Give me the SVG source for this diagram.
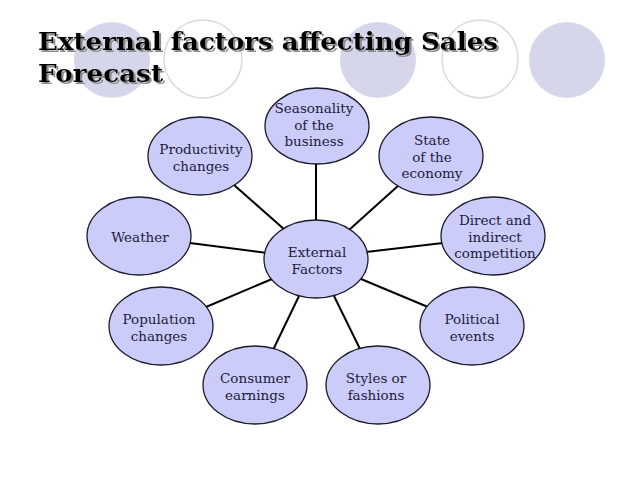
<svg xmlns="http://www.w3.org/2000/svg" width="638" height="479" viewBox="0 0 638 479">
<defs>
<filter id="shadow" x="-5%" y="-20%" width="110%" height="150%">
<feOffset in="SourceAlpha" dx="2" dy="2" result="off"/>
<feFlood flood-color="#8c8c8c"/>
<feComposite in2="off" operator="in" result="sh"/>
<feMerge><feMergeNode in="sh"/><feMergeNode in="SourceGraphic"/></feMerge>
</filter>
</defs>
<style>
.bgf{fill:#d6d6ea;stroke:none}
.bgo{fill:none;stroke:#d9d9dd;stroke-width:1.5}
.title{font-family:"DejaVu Serif","Liberation Serif",serif;font-weight:bold;font-size:24px;fill:#000}
.node ellipse{fill:#ccccfa;stroke:#1a1a2a;stroke-width:1.3}
.node text{font-family:"DejaVu Serif","Liberation Serif",serif;font-size:13.5px;fill:#1c1c3c;text-anchor:middle}
.conn line{stroke:#000;stroke-width:2}
</style>
<rect width="638" height="479" fill="#fff"/>
<g id="background">
<ellipse class="bgf" cx="112" cy="60" rx="38" ry="38"/>
<ellipse class="bgo" cx="203" cy="59" rx="39" ry="39"/>
<ellipse class="bgf" cx="378" cy="60" rx="38" ry="38"/>
<ellipse class="bgo" cx="480" cy="59" rx="38" ry="39"/>
<ellipse class="bgf" cx="567" cy="60" rx="38" ry="38"/>
</g>
<g id="title" class="title" filter="url(#shadow)">
<text x="38" y="50" textLength="460" lengthAdjust="spacingAndGlyphs">External factors affecting Sales</text>
<text x="38" y="82" textLength="125" lengthAdjust="spacingAndGlyphs">Forecast</text>
</g>
<g id="connectors" class="conn">
<line x1="316" y1="162" x2="316" y2="222"/>
<line x1="234" y1="185" x2="285" y2="230"/>
<line x1="190" y1="243" x2="267" y2="253"/>
<line x1="399" y1="185" x2="349" y2="230"/>
<line x1="443" y1="243" x2="366" y2="252"/>
<line x1="206" y1="307" x2="272" y2="279"/>
<line x1="273" y1="350" x2="299" y2="296"/>
<line x1="361" y1="351" x2="334" y2="296"/>
<line x1="428" y1="307" x2="361" y2="279"/>
</g>
<g id="n-seasonality" class="node">
<ellipse cx="317" cy="126" rx="52" ry="38"/>
<text x="314" y="113">Seasonality</text>
<text x="314" y="130">of the</text>
<text x="314" y="146">business</text>
</g>
<g id="n-productivity" class="node">
<ellipse cx="200" cy="156" rx="52" ry="39"/>
<text x="201" y="154">Productivity</text>
<text x="201" y="171">changes</text>
</g>
<g id="n-weather" class="node">
<ellipse cx="139" cy="236" rx="52" ry="39"/>
<text x="140" y="242">Weather</text>
</g>
<g id="n-external" class="node">
<ellipse cx="316" cy="259" rx="52" ry="39"/>
<text x="317" y="257">External</text>
<text x="317" y="274">Factors</text>
</g>
<g id="n-economy" class="node">
<ellipse cx="431" cy="156" rx="52" ry="39"/>
<text x="432" y="145">State</text>
<text x="432" y="162">of the</text>
<text x="432" y="178">economy</text>
</g>
<g id="n-competition" class="node">
<ellipse cx="493" cy="236" rx="52" ry="39"/>
<text x="495" y="225">Direct and</text>
<text x="495" y="242">indirect</text>
<text x="495" y="258">competition</text>
</g>
<g id="n-population" class="node">
<ellipse cx="161" cy="326" rx="52" ry="39"/>
<text x="159" y="324">Population</text>
<text x="159" y="341">changes</text>
</g>
<g id="n-consumer" class="node">
<ellipse cx="255" cy="385" rx="52" ry="39"/>
<text x="255" y="383">Consumer</text>
<text x="255" y="400">earnings</text>
</g>
<g id="n-styles" class="node">
<ellipse cx="378" cy="385" rx="52" ry="39"/>
<text x="376" y="383">Styles or</text>
<text x="376" y="400">fashions</text>
</g>
<g id="n-political" class="node">
<ellipse cx="472" cy="326" rx="52" ry="39"/>
<text x="472" y="324">Political</text>
<text x="472" y="341">events</text>
</g>
</svg>
